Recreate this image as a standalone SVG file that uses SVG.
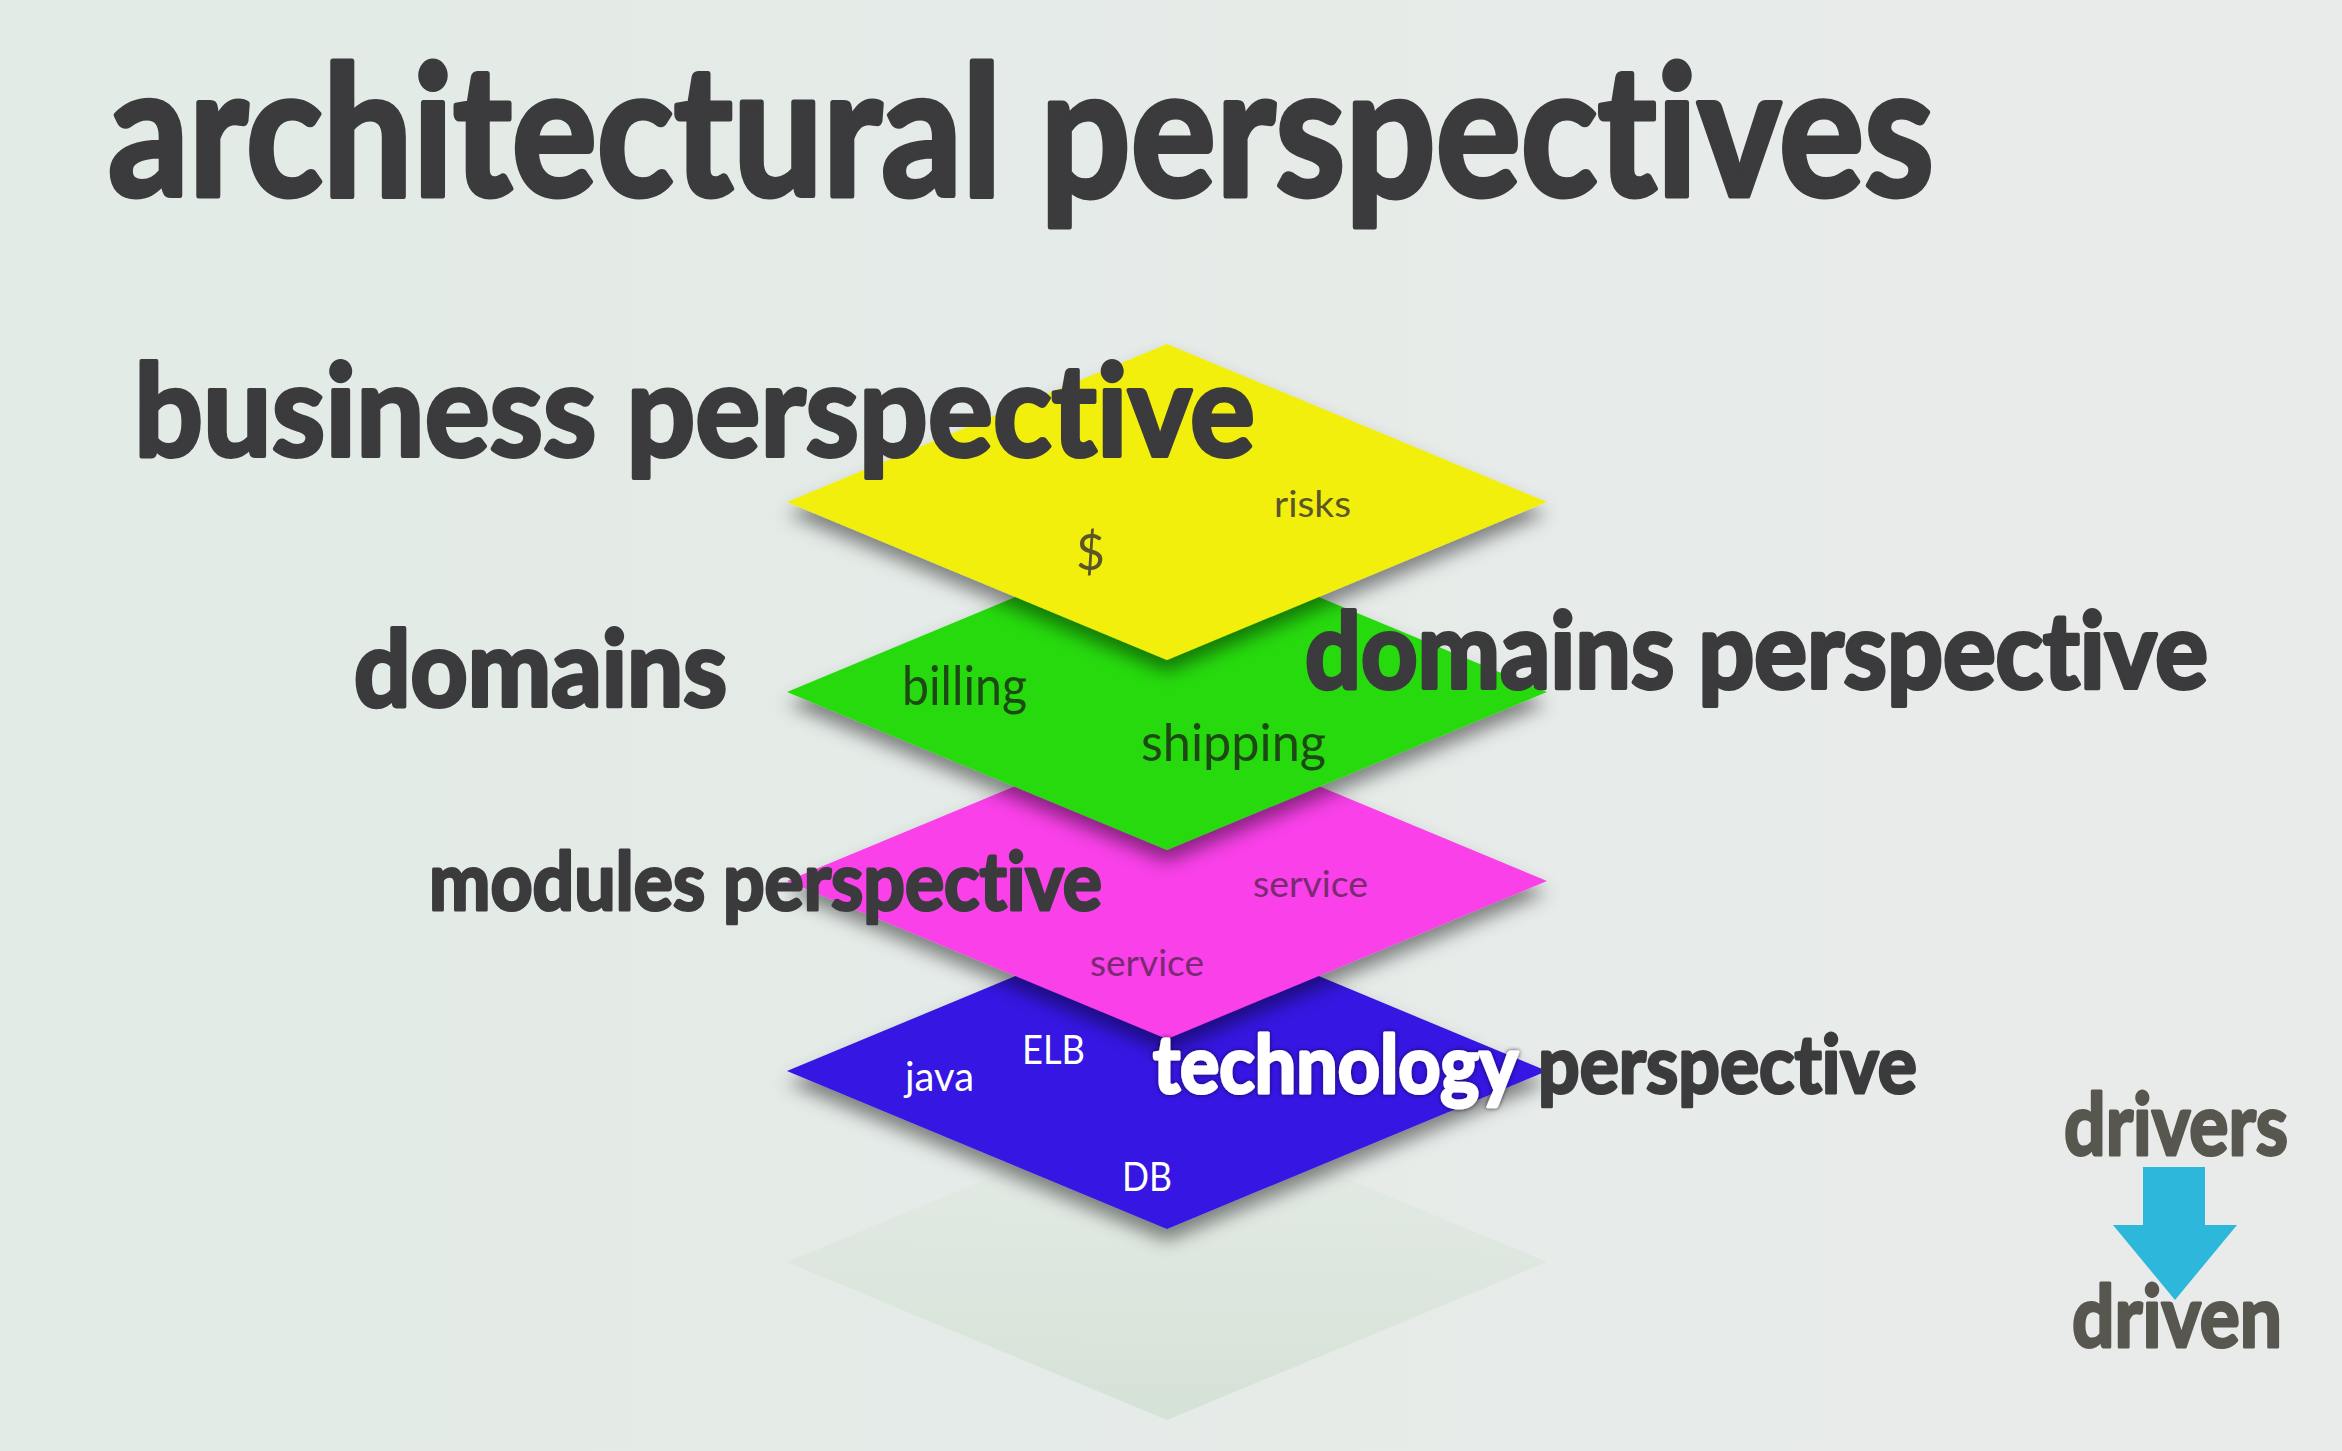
<svg xmlns="http://www.w3.org/2000/svg" xmlns:xlink="http://www.w3.org/1999/xlink" width="2342" height="1451" viewBox="0 0 2342 1451">
<defs>
<linearGradient id="bg" x1="0" y1="0" x2="1" y2="0">
<stop offset="0" stop-color="#e2ebe6"/>
<stop offset="1" stop-color="#e9ebea"/>
</linearGradient>
<linearGradient id="ghost" x1="0" y1="0" x2="0" y2="1">
<stop offset="0" stop-color="#d4e3d5" stop-opacity="0.05"/>
<stop offset="1" stop-color="#d2e0d3" stop-opacity="0.85"/>
</linearGradient>
<path id="dia" d="M0,-158 L380,0 L0,158 L-380,0 Z"/>
<filter id="drop" x="-20%" y="-30%" width="140%" height="170%">
<feGaussianBlur in="SourceAlpha" stdDeviation="9"/>
<feOffset dy="12" result="b"/>
<feFlood flood-color="#000" flood-opacity="0.45"/>
<feComposite in2="b" operator="in"/>
<feMerge><feMergeNode/><feMergeNode in="SourceGraphic"/></feMerge>
</filter>
<filter id="glow" x="-10%" y="-30%" width="120%" height="160%">
<feGaussianBlur in="SourceAlpha" stdDeviation="2.5"/>
<feFlood flood-color="#1a1030" flood-opacity="0.8"/>
<feComposite operator="in" in2="SourceAlpha"/>
<feGaussianBlur stdDeviation="2"/>
<feMerge><feMergeNode/><feMergeNode in="SourceGraphic"/></feMerge>
</filter>
<style>
text{font-variant-ligatures:none;font-feature-settings:"liga" 0}
.h{font-family:Lato,"Liberation Sans",sans-serif;font-weight:700;fill:#3b3a3c;stroke:#3b3a3c;stroke-width:3;stroke-linejoin:round}
.s{font-family:Lato,"Liberation Sans",sans-serif;font-weight:400}
.w{fill:#ffffff;stroke:#ffffff}
.d{fill:#58574f;stroke:#58574f}
</style>
</defs>
<rect width="2342" height="1451" fill="url(#bg)"/>
<text id="title" class="h" x="108" y="196" font-size="182" style="stroke-width:5" textLength="1826" lengthAdjust="spacingAndGlyphs">architectural perspectives</text>

<g id="ghost-layer"><use href="#dia" x="1167" y="1262" fill="url(#ghost)"/></g>

<g id="technology-layer">
<use href="#dia" x="1167" y="1071" fill="#3416e2" filter="url(#drop)"/>
<text class="s" x="905" y="1091" font-size="40" fill="#ffffff" textLength="69" lengthAdjust="spacingAndGlyphs">java</text>
<text class="s" x="1022" y="1064" font-size="40" fill="#ffffff" textLength="63" lengthAdjust="spacingAndGlyphs">ELB</text>
<text class="s" x="1122" y="1191" font-size="41" fill="#ffffff" textLength="50" lengthAdjust="spacingAndGlyphs">DB</text>
</g>

<g id="modules-layer">
<use href="#dia" x="1167" y="881" fill="#f940e9" filter="url(#drop)"/>
<text class="s" x="1253" y="897" font-size="37" fill="#7a2a72" textLength="115" lengthAdjust="spacingAndGlyphs">service</text>
<text class="s" x="1090" y="976" font-size="37" fill="#7a2a72" textLength="114" lengthAdjust="spacingAndGlyphs">service</text>
</g>

<g id="domains-layer">
<use href="#dia" x="1167" y="692" fill="#26da0c" filter="url(#drop)"/>
<text class="s" x="902" y="705" font-size="54" fill="#1d4a14" textLength="125" lengthAdjust="spacingAndGlyphs">billing</text>
<text class="s" x="1141" y="761" font-size="52" fill="#1d4a14" textLength="185" lengthAdjust="spacingAndGlyphs">shipping</text>
</g>

<g id="business-layer">
<use href="#dia" x="1167" y="502" fill="#f3ef0c" filter="url(#drop)"/>
<text class="s" x="1274" y="517" font-size="36" fill="#5a5628" textLength="77" lengthAdjust="spacingAndGlyphs">risks</text>
<text class="s" x="1076" y="570" font-size="50" fill="#5a5628">$</text>
</g>

<g id="business-label"><text class="h" x="134" y="456" font-size="128" style="stroke-width:4" textLength="1121" lengthAdjust="spacingAndGlyphs">business perspective</text></g>
<g id="domains-label"><text class="h" x="354" y="706" font-size="106" style="stroke-width:4" textLength="373" lengthAdjust="spacingAndGlyphs">domains</text></g>
<g id="domains-perspective-label"><text class="h" x="1305" y="688" font-size="106" style="stroke-width:4" textLength="903" lengthAdjust="spacingAndGlyphs">domains perspective</text></g>
<g id="modules-label"><text class="h" x="429" y="910" font-size="80" textLength="673" lengthAdjust="spacingAndGlyphs">modules perspective</text></g>
<g id="technology-label">
<text class="h w" x="1153" y="1093" font-size="80" filter="url(#glow)" textLength="365" lengthAdjust="spacingAndGlyphs">technology</text>
<text class="h" x="1538" y="1093" font-size="80" textLength="379" lengthAdjust="spacingAndGlyphs">perspective</text>
</g>

<g id="connectors">
<path d="M2143,1167 H2205 V1225 H2237 L2175,1300 L2113,1225 H2143 Z" fill="#2db7da"/>
</g>
<g id="drivers"><text class="h d" x="2064" y="1155" font-size="86" textLength="224" lengthAdjust="spacingAndGlyphs">drivers</text></g>
<g id="driven"><text class="h d" x="2072" y="1347" font-size="86" textLength="210" lengthAdjust="spacingAndGlyphs">driven</text></g>
</svg>
